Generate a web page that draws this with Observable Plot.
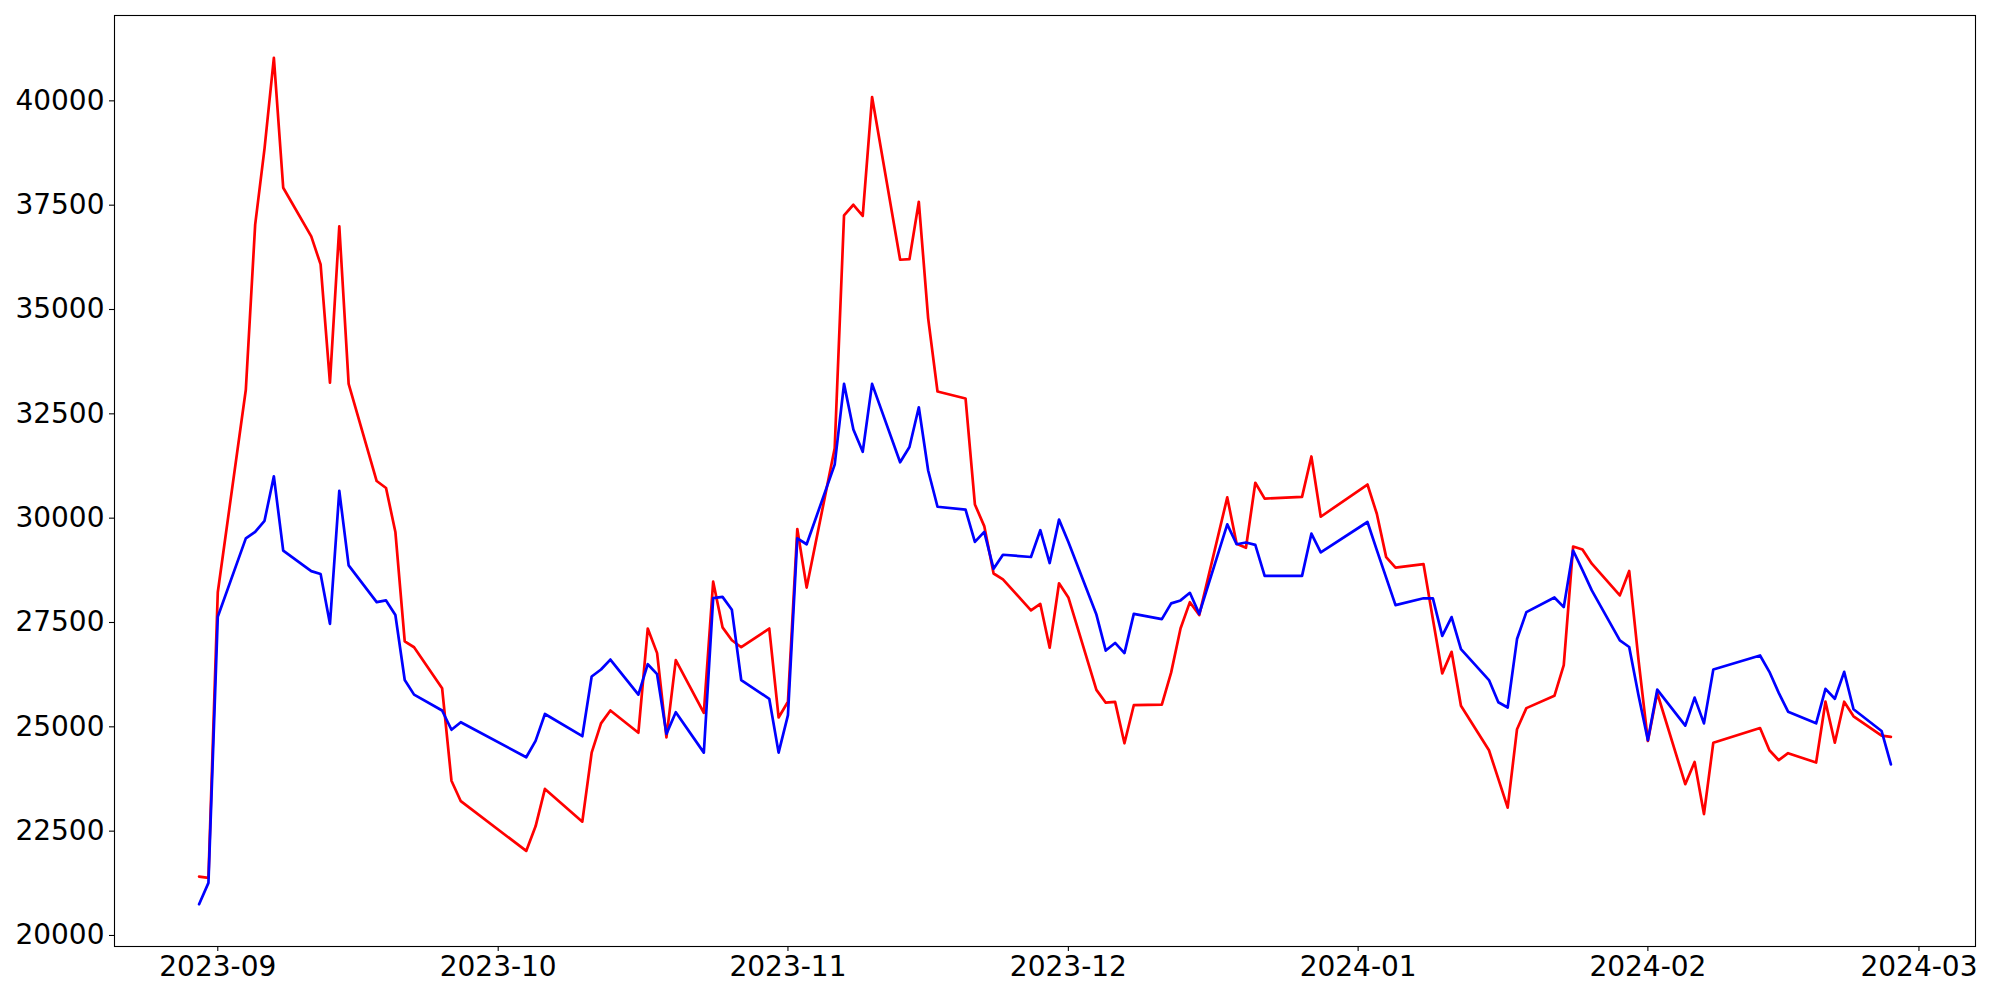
<!DOCTYPE html>
<html>
<head>
<meta charset="utf-8">
<script src="https://cdn.jsdelivr.net/npm/d3@7"></script>
<script src="https://cdn.jsdelivr.net/npm/@observablehq/plot@0.6"></script>
<style>
  html, body { margin: 0; padding: 0; background: #ffffff; }
  #chart { width: 2000px; height: 1000px; }
</style>
</head>
<body>
<div id="chart"></div>
<script>
const dates = [
  "2023-08-30","2023-08-31",
  "2023-09-01","2023-09-04","2023-09-05","2023-09-06","2023-09-07","2023-09-08",
  "2023-09-11","2023-09-12","2023-09-13","2023-09-14","2023-09-15",
  "2023-09-18","2023-09-19","2023-09-20","2023-09-21","2023-09-22",
  "2023-09-25","2023-09-26","2023-09-27",
  "2023-10-04","2023-10-05","2023-10-06",
  "2023-10-10","2023-10-11","2023-10-12","2023-10-13",
  "2023-10-16","2023-10-17","2023-10-18","2023-10-19","2023-10-20",
  "2023-10-23","2023-10-24","2023-10-25","2023-10-26","2023-10-27",
  "2023-10-30","2023-10-31",
  "2023-11-01","2023-11-02","2023-11-03",
  "2023-11-06","2023-11-07","2023-11-08","2023-11-09","2023-11-10",
  "2023-11-13","2023-11-14","2023-11-15","2023-11-16","2023-11-17",
  "2023-11-20","2023-11-21","2023-11-22","2023-11-23","2023-11-24",
  "2023-11-27","2023-11-28","2023-11-29","2023-11-30",
  "2023-12-01","2023-12-04","2023-12-05","2023-12-06","2023-12-07","2023-12-08",
  "2023-12-11","2023-12-12","2023-12-13","2023-12-14","2023-12-15",
  "2023-12-18","2023-12-19","2023-12-20","2023-12-21","2023-12-22",
  "2023-12-26","2023-12-27","2023-12-28",
  "2024-01-02","2024-01-03","2024-01-04","2024-01-05",
  "2024-01-08","2024-01-09","2024-01-10","2024-01-11","2024-01-12",
  "2024-01-15","2024-01-16","2024-01-17","2024-01-18","2024-01-19",
  "2024-01-22","2024-01-23","2024-01-24","2024-01-25","2024-01-26",
  "2024-01-29","2024-01-30","2024-01-31",
  "2024-02-01","2024-02-02",
  "2024-02-05","2024-02-06","2024-02-07","2024-02-08",
  "2024-02-13","2024-02-14","2024-02-15","2024-02-16",
  "2024-02-19","2024-02-20","2024-02-21","2024-02-22","2024-02-23",
  "2024-02-26","2024-02-27"
];

const redValues = [
  21409, 21381,
  28225, 33078, 37033, 38857, 41031, 37917,
  36753, 36080, 33246, 36991, 33218,
  30890, 30722, 29670, 27047, 26907,
  25925, 23709, 23218,
  22026, 22615, 23512,
  22727, 24382, 25083, 25392,
  24859, 27355, 26766, 24747, 26598,
  25336, 28478, 27384, 27075, 26907,
  27355, 25224,
  25602, 29740, 28337,
  31675, 37258, 37510, 37244, 40091,
  36192, 36206, 37580, 34789, 33036,
  32868, 30329, 29810, 28674, 28534,
  27790, 27945, 26895, 28440,
  28100, 25885, 25578, 25597, 24606, 25518,
  25532, 26304, 27355, 27987, 27678,
  30497, 29389, 29291, 30848, 30469,
  30511, 31479, 30034,
  30806, 30105, 29067, 28814,
  28898, 27580, 26280, 26798, 25504,
  24438, 23751, 23064, 24943, 25448,
  25742, 26478, 29320, 29249, 28910,
  28150, 28735, 26600,
  24660, 25810,
  23625, 24158, 22909, 24620,
  24971, 24438, 24200, 24368,
  24144, 25602, 24620, 25602, 25252,
  24789, 24761
];

const blueValues = [
  20750, 21260,
  27636, 29516, 29670, 29937, 31002, 29221,
  28730, 28660, 27468, 30652, 28870,
  27987, 28029, 27678, 26121, 25771,
  25392, 24929, 25111,
  24270, 24662, 25308,
  24775, 26205, 26373, 26612,
  25771, 26500, 26261, 24831, 25350,
  24382, 28085, 28113, 27804, 26121,
  25672, 24382,
  25280, 29515, 29375,
  31283, 33218, 32124, 31591, 33218,
  31339, 31704, 32657, 31142, 30273,
  30203, 29431, 29670, 28786, 29123,
  29070, 29711, 28925, 29965,
  29430, 27690, 26827, 27010, 26766, 27706,
  27580, 27959, 28029, 28211, 27706,
  29852, 29375, 29417, 29361, 28618,
  28618, 29628, 29179,
  29908, 29235, 28576, 27917,
  28080, 28077, 27180, 27630, 26860,
  26121, 25588, 25462, 27103, 27748,
  28099, 27868, 29225, 28754, 28270,
  27070, 26913, 25750,
  24680, 25890,
  25027, 25700, 25083, 26374,
  26710, 26318, 25813, 25364,
  25083, 25911, 25672, 26318, 25420,
  24901, 24101
];

const yTicks = [20000, 22500, 25000, 27500, 30000, 32500, 35000, 37500, 40000];
const xTickFormat = "%Y-%m";

const seriesColors = { red: "#ff0000", blue: "#0000ff" };

// table built from the arrays
const parsedDates = dates.map(d => new Date(d + "T00:00:00Z"));
const redTable = parsedDates.map((d, i) => ({ date: d, value: redValues[i] }));
const blueTable = parsedDates.map((d, i) => ({ date: d, value: blueValues[i] }));

// matplotlib-like 5% margins
const x0 = +d3.min(parsedDates), x1 = +d3.max(parsedDates);
const xm = (x1 - x0) * 0.05;
const allV = redValues.concat(blueValues);
const y0 = d3.min(allV), y1 = d3.max(allV);
const ym = (y1 - y0) * 0.05;

const chart = Plot.plot({
  width: 2000,
  height: 1000,
  marginLeft: 114,
  marginRight: 25,
  marginTop: 15,
  marginBottom: 54,
  style: {
    fontFamily: "'DejaVu Sans', sans-serif",
    fontSize: "28px",
    background: "#ffffff",
    color: "#000000",
    overflow: "visible"
  },
  x: { type: "utc", domain: [new Date(x0 - xm), new Date(x1 + xm)] },
  y: { domain: [y0 - ym, y1 + ym] },
  marks: [
    Plot.lineY(redTable, { x: "date", y: "value", stroke: seriesColors.red, strokeWidth: 2.7 }),
    Plot.lineY(blueTable, { x: "date", y: "value", stroke: seriesColors.blue, strokeWidth: 2.7 }),
    Plot.frame({ stroke: "#000000", strokeWidth: 1.1 }),
    Plot.axisX({
      ticks: d3.utcMonth.every(1),
      tickFormat: d3.utcFormat(xTickFormat),
      tickSize: 5,
      tickPadding: 5,
      strokeWidth: 1.1,
      fontSize: 28,
      label: null
    }),
    Plot.axisY({
      ticks: yTicks,
      tickFormat: d => String(d),
      tickSize: 5,
      tickPadding: 5,
      strokeWidth: 1.1,
      fontSize: 28,
      label: null
    })
  ]
});

document.getElementById("chart").appendChild(chart);
</script>
</body>
</html>
